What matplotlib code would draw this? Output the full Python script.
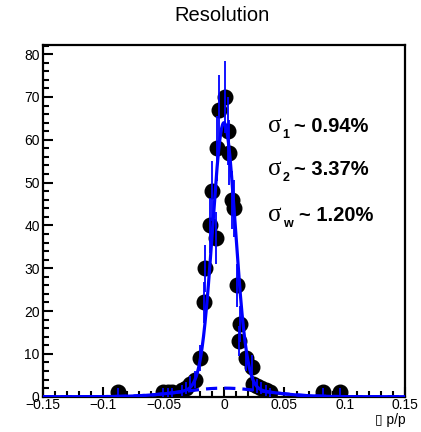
import numpy as np
import matplotlib
matplotlib.use('Agg')
import matplotlib.pyplot as plt
from matplotlib.ticker import MultipleLocator

# histogram points (dp/p, counts)
dpp = [-0.088, -0.050, -0.046, -0.043, -0.035, -0.031, -0.028, -0.024, -0.020,
       -0.0165, -0.0155, -0.0116, -0.0102, -0.0066, -0.0060, -0.0040, 0.0008,
       0.0036, 0.0044, 0.0064, 0.0085, 0.0105, 0.0127, 0.0132, 0.018, 0.023,
       0.024, 0.027, 0.031, 0.035, 0.038, 0.082, 0.096]
counts = [1, 1, 1, 1, 1.5, 2, 3, 4, 9,
          22, 30, 40, 48, 37, 58, 67, 70,
          62, 57, 46, 44, 26, 13, 17, 9, 7,
          3, 2.5, 2, 1.5, 1, 1, 1]

# double gaussian fit parameters
amp1, sigma1 = 62.0, 0.0094
amp2, sigma2 = 2.0, 0.0337

labels = [("1", "0.94%"), ("2", "3.37%"), ("w", "1.20%")]

plt.rcParams['font.family'] = ['Liberation Sans', 'DejaVu Sans']

fig = plt.figure(figsize=(4.21, 4.32), dpi=100)
ax = fig.add_axes([0.101, 0.0817, 0.862, 0.8148])

x = np.array(dpp)
y = np.array(counts)
ax.plot(x, y, 'o', color='black', ms=10.5, zorder=2)
ax.errorbar(x, y, yerr=np.sqrt(y), fmt='none', ecolor='blue', elinewidth=1.3,
            capsize=0, zorder=3)

xs = np.linspace(-0.15, 0.15, 1500)
g1 = amp1 * np.exp(-xs**2 / (2 * sigma1**2))
g2 = amp2 * np.exp(-xs**2 / (2 * sigma2**2))
ax.plot(xs, g1 + g2, color='blue', lw=2.3, zorder=4)
ax.plot(xs, g2, color='blue', lw=2.3, ls=(0, (3.5, 2.2)), zorder=4)

ax.set_xlim(-0.15, 0.15)
ax.set_ylim(0, 82.2)
ax.xaxis.set_minor_locator(MultipleLocator(0.01))
ax.yaxis.set_major_locator(MultipleLocator(10))
ax.yaxis.set_minor_locator(MultipleLocator(2))
ax.set_xticks([-0.15, -0.1, -0.05, 0, 0.05, 0.1, 0.15])
ax.set_xticklabels(['\u22120.15', '\u22120.1', '\u22120.05', '0', '0.05', '0.1', '0.15'])
ax.tick_params(which='both', direction='in', top=False, right=False,
               labelsize=10, width=1.5, colors='black')
ax.tick_params(which='major', length=7)
ax.tick_params(which='minor', length=4)
ax.tick_params(axis='x', pad=1)
ax.tick_params(axis='y', pad=2)
for s in ax.spines.values():
    s.set_linewidth(1.6)

fig.text(0.527, 0.965, 'Resolution', ha='center', va='center', fontsize=14.5)
fig.text(0.963, 0.028, '\u25af p/p', ha='right', va='center', fontsize=10)

ys = [0.695, 0.595, 0.489]
for (sub, val), yy in zip(labels, ys):
    fig.text(0.6366, yy, '\u03c3', family='Liberation Serif', fontsize=18,
             ha='left', va='baseline')
    t = fig.text(0.6366, yy, sub, fontsize=9, fontweight='bold',
                 ha='left', va='baseline')
    t.set_transform(fig.transFigure + matplotlib.transforms.ScaledTranslation(
        10.5 / 72, -4.3 / 72, fig.dpi_scale_trans))
    dx = 22.0 if sub == 'w' else 19.0
    t2 = fig.text(0.6366, yy, '~ ' + val, fontsize=14.5, fontweight='bold',
                  ha='left', va='baseline')
    t2.set_transform(fig.transFigure + matplotlib.transforms.ScaledTranslation(
        dx / 72, 0, fig.dpi_scale_trans))

fig.savefig('out.png', dpi=100)
